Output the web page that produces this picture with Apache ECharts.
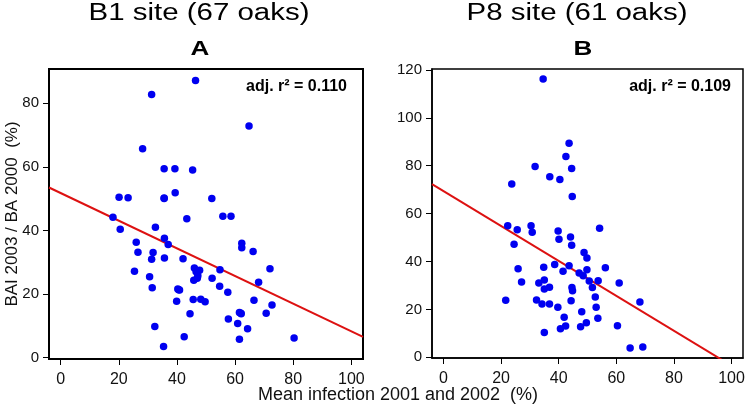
<!DOCTYPE html>
<html>
<head>
<meta charset="utf-8">
<script src="https://cdn.jsdelivr.net/npm/echarts@6/dist/echarts.min.js"></script>
<style>
html,body{margin:0;padding:0;background:#fff;}
#c{width:748px;height:405px;}
</style>
</head>
<body>
<div id="c"></div>
<script>
// ---- Panel A: B1 site (67 oaks) ----
const aX = [46.4,31.3,64.8,28.2,35.6,39.3,45.4,20.1,23.2,35.6,39.4,52.0,18.0,43.4,55.8,58.6,20.5,32.6,26.0,35.7,
            37.0,26.6,31.8,31.3,35.7,42.1,62.3,62.3,66.2,25.4,30.6,31.5,46.0,47.8,47.2,45.8,54.8,52.1,72.0,68.1,
            54.7,57.5,40.3,40.9,39.9,45.6,48.2,49.7,66.5,72.7,44.5,61.5,62.1,70.7,57.7,60.9,32.4,64.3,42.5,61.5,
            80.3,35.4,46.6,47.0,40.6,62.0,35.6];
const aY = [87.2,82.8,72.9,65.7,59.4,59.4,59.0,50.5,50.3,50.1,51.9,50.1,44.2,43.7,44.5,44.5,40.4,41.0,36.3,37.6,
            35.6,33.2,33.1,31.0,31.4,31.1,36.0,34.6,33.4,27.2,25.5,22.0,28.2,27.5,25.8,24.4,27.7,25.0,28.0,23.7,
            22.5,20.6,21.6,21.3,17.8,18.3,18.4,17.6,18.1,16.6,13.8,14.2,13.8,14.0,12.2,10.8,9.8,9.1,6.6,5.8,
            6.2,3.5,27.0,25.0,21.4,14.0,50.2];
const aFit = {intercept: 51.8, slope: -0.435};
const aR2 = 'adj. r\u00B2 = 0.110';

// ---- Panel B: P8 site (61 oaks) ----
const bX = [34.6,43.6,42.5,31.8,44.5,36.9,40.4,23.7,44.7,
            22.3,30.4,25.6,30.8,54.2,39.8,44.1,40.1,44.5,24.5,48.8,49.8,38.6,43.6,34.8,56.2,25.9,49.8,41.5,47.1,
            48.5,50.6,53.7,35.0,33.1,27.1,61.0,36.8,35.0,44.6,44.8,51.7,52.7,21.6,32.3,44.3,68.2,34.2,36.8,53.0,
            39.7,48.0,41.9,53.6,49.6,42.4,47.6,60.4,40.6,35.0,64.8,69.2];
const bY = [116.2,89.4,83.9,79.7,78.8,75.4,74.2,72.4,67.1,
            54.9,54.9,53.3,52.2,53.9,52.7,50.2,49.3,46.8,47.2,43.8,41.5,38.8,38.2,37.6,37.4,37.0,36.6,35.9,35.2,
            34.1,31.9,32.0,32.3,31.0,31.4,31.0,29.2,28.5,29.1,27.8,29.1,25.2,23.8,23.9,23.6,23.1,22.3,22.3,20.9,
            20.9,19.0,16.7,16.3,14.4,13.1,12.7,13.2,11.9,10.3,3.9,4.3];
const bFit = {intercept: 69.4, slope: -0.729};
const bR2 = 'adj. r\u00B2 = 0.109';

// ---- Axes ----
const xTicks = [0,20,40,60,80,100];
const xRange = [-4,104];
const aYTicks = [0,20,40,60,80];
const aYRange = [-0.4,90.8];
const bYTicks = [0,20,40,60,80,100,120];
const bYRange = [-0.3,120.4];

const titleA = 'B1 site (67 oaks)';
const titleB = 'P8 site (61 oaks)';
const letterA = 'A';
const letterB = 'B';
const xTitle = 'Mean infection 2001 and 2002  (%)';
const yTitle = 'BAI 2003 / BA 2000  (%)';

const FONT = '"Liberation Sans", Arial, Helvetica, sans-serif';

function pairs(xs, ys){ return xs.map((x,i)=>[x, ys[i]]); }
function fitLine(fit){ return xRange.map(x => [x, fit.intercept + fit.slope * x]); }

function xAxis(gi){
  return {
    gridIndex: gi, type: 'value', min: xRange[0], max: xRange[1],
    splitLine: {show:false},
    axisLine: {show:true, onZero:false, lineStyle:{color:'#000', width: gi===0?2:1.5}},
    axisTick: {show:true, length:6, customValues: xTicks, lineStyle:{color:'#000', width:1}},
    axisLabel: {customValues: xTicks, fontSize: 16, color:'#111', margin: 13, fontFamily: FONT}
  };
}
function yAxis(gi, range, ticks){
  return {
    gridIndex: gi, type: 'value', min: range[0], max: range[1],
    splitLine: {show:false},
    axisLine: {show:true, onZero:false, lineStyle:{color:'#000', width: gi===0?2:1.5}},
    axisTick: {show:true, length:6, customValues: ticks, lineStyle:{color:'#000', width:1}},
    axisLabel: {customValues: ticks, fontSize: 15, color:'#111', margin: 10, fontFamily: FONT}
  };
}

const chart = echarts.init(document.getElementById('c'), null, {renderer:'canvas'});
chart.setOption({
  animation: false,
  backgroundColor: '#fff',
  grid: [
    {left: 49, top: 69, width: 314, height: 290, show: true, borderColor:'#000', borderWidth: 2, backgroundColor:'transparent'},
    {left: 432, top: 69, width: 311, height: 289, show: true, borderColor:'#000', borderWidth: 1.5, backgroundColor:'transparent'}
  ],
  xAxis: [xAxis(0), xAxis(1)],
  yAxis: [yAxis(0, aYRange, aYTicks), yAxis(1, bYRange, bYTicks)],
  series: [
    {type:'line', xAxisIndex:0, yAxisIndex:0, data: fitLine(aFit), showSymbol:false, clip:true,
     lineStyle:{color:'#dd1111', width:2}, z:1},
    {type:'line', xAxisIndex:1, yAxisIndex:1, data: fitLine(bFit), showSymbol:false, clip:true,
     lineStyle:{color:'#dd1111', width:2}, z:1},
    {type:'scatter', xAxisIndex:0, yAxisIndex:0, data: pairs(aX, aY), symbolSize: 7.5,
     itemStyle:{color:'#0000f0', opacity:1}, z:2},
    {type:'scatter', xAxisIndex:1, yAxisIndex:1, data: pairs(bX, bY), symbolSize: 7.5,
     itemStyle:{color:'#0000f0', opacity:1}, z:2}
  ],
  graphic: [
    {type:'text', x:199, y:14, scaleX:1.28, style:{text:titleA, font:'23px '+FONT, fill:'#000', align:'center', verticalAlign:'middle'}},
    {type:'text', x:577, y:14, scaleX:1.28, style:{text:titleB, font:'23px '+FONT, fill:'#000', align:'center', verticalAlign:'middle'}},
    {type:'text', x:200, y:49, scaleX:1.3, style:{text:letterA, font:'bold 20px '+FONT, fill:'#000', align:'center', verticalAlign:'middle'}},
    {type:'text', x:583, y:49, scaleX:1.3, style:{text:letterB, font:'bold 20px '+FONT, fill:'#000', align:'center', verticalAlign:'middle'}},
    {type:'text', x:347, y:87, style:{text:aR2, font:'bold 16px '+FONT, fill:'#000', align:'right', verticalAlign:'middle'}},
    {type:'text', x:731, y:87, style:{text:bR2, font:'bold 16px '+FONT, fill:'#000', align:'right', verticalAlign:'middle'}},
    {type:'text', x:398, y:395, style:{text:xTitle, font:'18px '+FONT, fill:'#111', align:'center', verticalAlign:'middle'}},
    {type:'text', x:12, y:214, rotation:Math.PI/2, style:{text:yTitle, font:'17px '+FONT, fill:'#111', align:'center', verticalAlign:'middle'}}
  ]
});
</script>
</body>
</html>
